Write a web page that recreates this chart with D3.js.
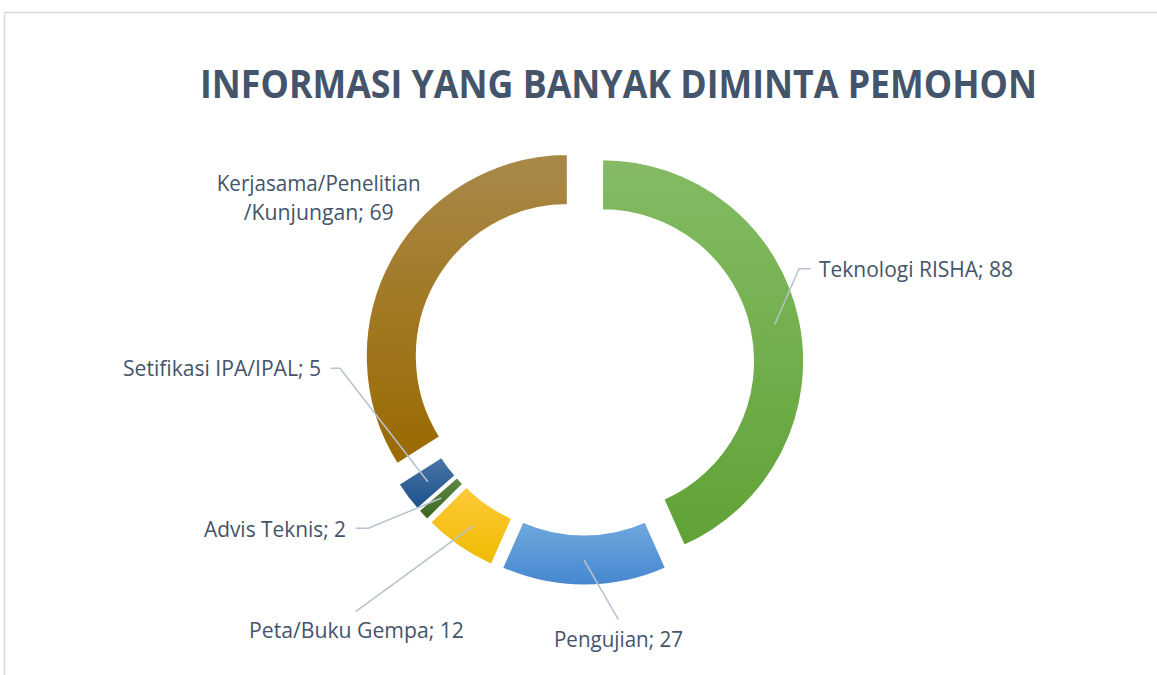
<!DOCTYPE html>
<html>
<head>
<meta charset="utf-8">
<script src="https://cdn.jsdelivr.net/npm/d3@7"></script>
<style>
  body { margin: 0; background: #fff; }
  text { font-family: "Open Sans", "Noto Sans", sans-serif; }
</style>
</head>
<body>
<div id="container"></div>
<script>
var width = 1157;
var height = 675;

// data (clockwise from 12 o'clock)
var categories = ["Teknologi RISHA", "Pengujian", "Peta/Buku Gempa", "Advis Teknis", "Setifikasi IPA/IPAL", "Kerjasama/Penelitian/Kunjungan"];
var values = [88, 27, 12, 2, 5, 69];
var labelLines = [
  ["Teknologi RISHA; 88"],
  ["Pengujian; 27"],
  ["Peta/Buku Gempa; 12"],
  ["Advis Teknis; 2"],
  ["Setifikasi IPA/IPAL; 5"],
  ["Kerjasama/Penelitian", "/Kunjungan; 69"]
];
var colorsTop = ["#84bb64", "#6fa8de", "#ffc93a", "#5e8a46", "#4c76a8", "#a98849"];
var colorsBottom = ["#60a236", "#4587cf", "#efbb00", "#39651f", "#19508a", "#9a6a00"];

// layout
var cx = 584, cy = 365, R = 202, r = 151, explode = 18.5;
var labelLayout = [
  {x: 819, y: 277, anchor: "start", len: [194], leader: [[799, 268.7], [810.7, 268.7]]},
  {x: 554, y: 647, anchor: "start", len: [129], leader: [[618.3, 619.3]]},
  {x: 249, y: 638, anchor: "start", len: [215], leader: [[355.7, 611.7]]},
  {x: 346, y: 537, anchor: "end", len: [142], leader: [[368.3, 528.3], [355.7, 528.3]]},
  {x: 321, y: 376, anchor: "end", len: [198], leader: [[340, 368.3], [330.7, 368.3]]},
  {x: 318.7, y: 191, anchor: "middle", len: [204, 150], leader: null}
];

var svg = d3.select("#container").append("svg")
  .attr("width", width)
  .attr("height", height);

// chart frame
svg.append("rect")
  .attr("x", 4.5).attr("y", 12.5)
  .attr("width", width + 20).attr("height", height + 20)
  .attr("fill", "none")
  .attr("stroke", "#d9d9d9")
  .attr("stroke-width", 1.5);

var defs = svg.append("defs");
values.forEach(function(v, i){
  var g = defs.append("linearGradient")
    .attr("id", "grad" + i)
    .attr("x1", 0).attr("y1", 0).attr("x2", 0).attr("y2", 1);
  g.append("stop").attr("offset", "0%").attr("stop-color", colorsTop[i]);
  g.append("stop").attr("offset", "100%").attr("stop-color", colorsBottom[i]);
});

svg.append("text")
  .attr("x", 618.5).attr("y", 98)
  .attr("text-anchor", "middle")
  .attr("font-size", 39)
  .attr("font-weight", "bold")
  .attr("fill", "#44546a")
  .attr("textLength", 837)
  .attr("lengthAdjust", "spacingAndGlyphs")
  .text("INFORMASI YANG BANYAK DIMINTA PEMOHON");

var pie = d3.pie().sort(null).value(function(d){ return d; });
var arcs = pie(values);
var arc = d3.arc().innerRadius(r).outerRadius(R);

function offset(d){
  var mid = (d.startAngle + d.endAngle) / 2;
  return [explode * Math.sin(mid), -explode * Math.cos(mid)];
}

var G = svg.append("g").attr("transform", "translate(" + cx + "," + cy + ")");

G.selectAll("path.slice")
  .data(arcs)
  .enter()
  .append("path")
  .attr("class", "slice")
  .attr("transform", function(d){ var o = offset(d); return "translate(" + o[0] + "," + o[1] + ")"; })
  .attr("d", arc)
  .attr("fill", function(d, i){ return "url(#grad" + i + ")"; })
  .attr("stroke", "#fff")
  .attr("stroke-width", 2);

// leader lines from slice centroids
var lineGen = d3.line();
arcs.forEach(function(d, i){
  var L = labelLayout[i];
  if(!L.leader) return;
  var o = offset(d);
  var c = arc.centroid(d);
  var pts = [[cx + o[0] + c[0], cy + o[1] + c[1]]].concat(L.leader);
  svg.append("path")
    .attr("d", lineGen(pts))
    .attr("fill", "none")
    .attr("stroke", "#b7c2d0")
    .attr("stroke-width", 1.5);
});

// labels
labelLayout.forEach(function(L, i){
  var t = svg.append("text")
    .attr("x", L.x).attr("y", L.y)
    .attr("text-anchor", L.anchor)
    .attr("font-size", 21)
    .attr("fill", "#44546a");
  labelLines[i].forEach(function(s, j){
    t.append("tspan")
      .attr("x", L.x)
      .attr("dy", j === 0 ? 0 : 29.3)
      .attr("textLength", L.len[j])
      .attr("lengthAdjust", "spacingAndGlyphs")
      .text(s);
  });
});
</script>
</body>
</html>
